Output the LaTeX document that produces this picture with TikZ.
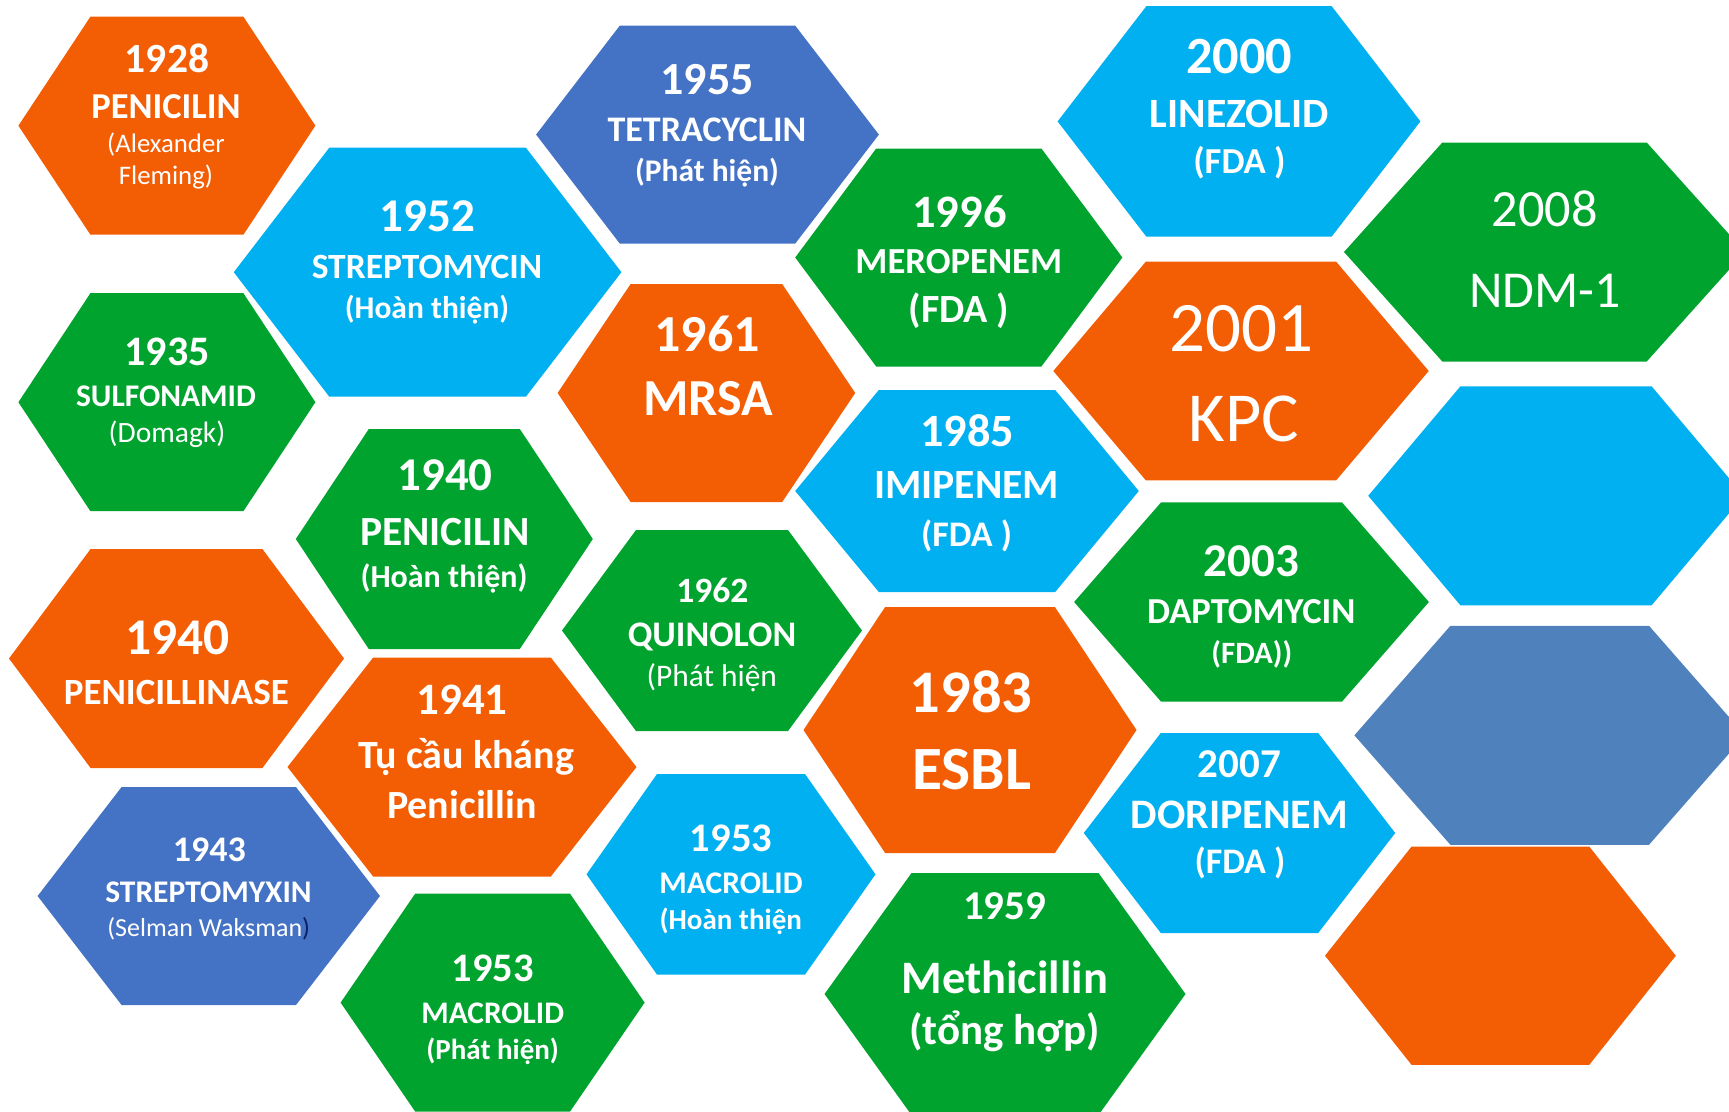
\documentclass[tikz,border=0pt]{standalone}
\usepackage{fontspec}
\setmainfont{Carlito}
\usetikzlibrary{positioning}

\definecolor{orng}{RGB}{243,93,4}
\definecolor{grn}{RGB}{0,163,46}
\definecolor{sky}{RGB}{0,176,240}
\definecolor{blu}{RGB}{68,114,196}
\definecolor{stl}{RGB}{79,129,189}
\definecolor{navy}{RGB}{10,31,102}

\newcommand{\fs}[1]{\fontsize{#1}{#1}\selectfont}
% name, centre, half width, half height, corner inset, colour
\newcommand{\hexcell}[6]{%
  \fill[#6,shift={(#2)}] (-#3,0) -- ({-#3+#5},#4) -- ({#3-#5},#4) -- (#3,0)
    -- ({#3-#5},-#4) -- ({-#3+#5},-#4) -- cycle;
  \coordinate (#1) at (#2);}

\begin{document}
\begin{tikzpicture}[x=1pt,y=-1pt,
                    lbl/.style={text=white,anchor=base,inner sep=0pt},
                    bl/.style={lbl,font=\bfseries\fs{#1}},
                    rg/.style={lbl,font=\fs{#1}}]

  \useasboundingbox (0,0) rectangle (1729,1111);
  \clip (0,0) rectangle (1729,1111);

  \hexcell{h1928}{166.9,125.7}{148.5}{109}{72}{orng}
  \hexcell{h1952}{427.6,272.2}{193.8}{124.5}{95.5}{sky}
  \hexcell{h1935}{166.9,402.2}{148.5}{109}{72}{grn}
  \hexcell{h1940a}{444.3,539}{148.5}{110}{73}{grn}
  \hexcell{h1940b}{176.5,658.5}{167.5}{109.5}{81.6}{orng}
  \hexcell{h1941}{462,767}{174.5}{109.5}{85.7}{orng}
  \hexcell{h1943}{208.8,896}{171.2}{109}{84}{blu}
  \hexcell{h1953a}{492.6,1002.6}{152}{109}{74.6}{grn}
  \hexcell{h1955}{707.5,134.6}{171.4}{109}{83.7}{blu}
  \hexcell{h1996}{958.8,257.5}{163.6}{109}{81}{grn}
  \hexcell{h1961}{706.4,393}{148.8}{109}{73}{orng}
  \hexcell{h1985}{967,491}{171.8}{101}{83.6}{sky}
  \hexcell{h1962}{712,630.5}{150}{100.5}{74}{grn}
  \hexcell{h1983}{970,730}{166.5}{123}{81.6}{orng}
  \hexcell{h1953b}{731,874.3}{144.5}{100.3}{70.5}{sky}
  \hexcell{h1959}{1005,994}{180.5}{121}{87}{grn}
  \hexcell{h2000}{1239,121.4}{181.4}{115.3}{88.8}{sky}
  \hexcell{h2008}{1544.5,252}{200.5}{109.5}{98.3}{grn}
  \hexcell{h2001}{1241,371}{187.7}{109.3}{92.5}{orng}
  \hexcell{hsky}{1556,495.8}{187.8}{109.5}{92.2}{sky}
  \hexcell{h2003}{1251.5,602}{177.4}{99.7}{87}{grn}
  \hexcell{h2007}{1239.5,833}{155.7}{100}{77}{sky}
  \hexcell{hstl}{1549.7,735.3}{195.3}{109.5}{96}{stl}
  \hexcell{horng}{1500.4,955.7}{175.4}{109.2}{86.6}{orng}

  \node[bl=41.5] (y1928) at (167,72)    {1928};
  \node[bl=36.5] (n1928) at (166,118)   {PENICILIN};
  \node[rg=26.8] (a1928) at (166,152.7) {(Alexander};
  \node[rg=26.8] (b1928) at (166,184.3) {Fleming)};

  \node[bl=47]   (y1952) at (427.6,231.4) {1952};
  \node[bl=35.5] (n1952) at (427,278.2)   {STREPTOMYCIN};
  \node[bl=31.5] (a1952) at (427,318.7)   {(Hoàn thiện)};

  \node[bl=42]   (y1935) at (167,365.9) {1935};
  \node[bl=31.5] (n1935) at (166,406.7) {SULFONAMID};
  \node[rg=29.5] (a1935) at (167,442.6) {(Domagk)};

  \node[bl=47]   (y1940a) at (445,490) {1940};
  \node[bl=41.5] (n1940a) at (445,545) {PENICILIN};
  \node[bl=32]   (a1940a) at (444,587) {(Hoàn thiện)};

  \node[bl=51.5] (y1940b) at (177.5,654.6) {1940};
  \node[bl=37]   (n1940b) at (176.3,704)   {PENICILLINASE};

  \node[bl=45]   (y1941) at (462,714.9) {1941};
  \node[bl=40]   (n1941) at (466,768.8) {Tụ cầu kháng};
  \node[bl=40]   (a1941) at (462,818.6) {Penicillin};

  \node[bl=36]   (y1943) at (209.3,861.2) {1943};
  \node[bl=31.5] (n1943) at (208.5,902.7) {STREPTOMYXIN};
  \node[rg=26]   (a1943) at (208.7,936.6) {(Selman Waksman\textcolor{navy}{)}};

  \node[bl=40.5] (y1953a) at (492.7,981.8)  {1953};
  \node[bl=31.4] (n1953a) at (492.7,1023.3) {MACROLID};
  \node[bl=29]   (a1953a) at (492.7,1059)   {(Phát hiện)};

  \node[bl=46]   (y1955) at (707,94.6)  {1955};
  \node[bl=36]   (n1955) at (707,141.1) {TETRACYCLIN};
  \node[bl=31.5] (a1955) at (707,181)   {(Phát hiện)};

  \node[bl=46.5] (y1996) at (959.4,227.4) {1996};
  \node[bl=36.7] (n1996) at (958.8,273.9) {MEROPENEM};
  \node[bl=40]   (a1996) at (959,322.7)   {(FDA )};

  \node[bl=52] (y1961) at (707,351) {1961};
  \node[bl=52] (n1961) at (708,415) {MRSA};

  \node[bl=46.3] (y1985) at (967.4,446.5) {1985};
  \node[bl=41.6] (n1985) at (966.6,498)   {IMIPENEM};
  \node[bl=36]   (a1985) at (966.6,546)   {(FDA )};

  \node[bl=35.6] (y1962) at (712.4,602.2) {1962};
  \node[bl=36]   (n1962) at (712,646.3)   {QUINOLON};
  \node[rg=31.4] (a1962) at (711.8,686.4) {(Phát hiện};

  \node[bl=60.5] (y1983) at (971,712.6)   {1983};
  \node[bl=61.5] (n1983) at (971.5,789.4) {ESBL};

  \node[bl=40.6] (y1953b) at (731,851)   {1953};
  \node[bl=31.5] (n1953b) at (731,893.9) {MACROLID};
  \node[bl=29]   (a1953b) at (730.7,929) {(Hoàn thiện};

  \node[bl=41]   (y1959) at (1004.7,919.3) {1959};
  \node[bl=46.5] (n1959) at (1004.7,993.4) {Methicillin};
  \node[bl=43]   (a1959) at (1004.7,1044)  {(tổng hợp)};

  \node[bl=52.3] (y2000) at (1239.4,73.9)  {2000};
  \node[bl=41.7] (n2000) at (1239.4,127.4) {LINEZOLID};
  \node[bl=36.6] (a2000) at (1239.4,173.9) {(FDA )};

  \node[rg=71]   (y2001) at (1241.2,351.6) {2001};
  \node[rg=70.3] (n2001) at (1243.8,441)   {KPC};

  \node[rg=52.3] (y2008) at (1544.7,226.7) {2008};
  \node[rg=51.8] (n2008) at (1545,307)     {NDM-1};

  \node[bl=47]   (y2003) at (1251.3,576.4) {2003};
  \node[bl=36.6] (n2003) at (1251.3,623.7) {DAPTOMYCIN};
  \node[bl=31]   (a2003) at (1251.8,663.8) {(FDA))};

  \node[bl=41]   (y2007) at (1239.4,777.3) {2007};
  \node[bl=42]   (n2007) at (1239.4,828.3) {DORIPENEM};
  \node[bl=36]   (a2007) at (1240,873)     {(FDA )};
\end{tikzpicture}
\end{document}
